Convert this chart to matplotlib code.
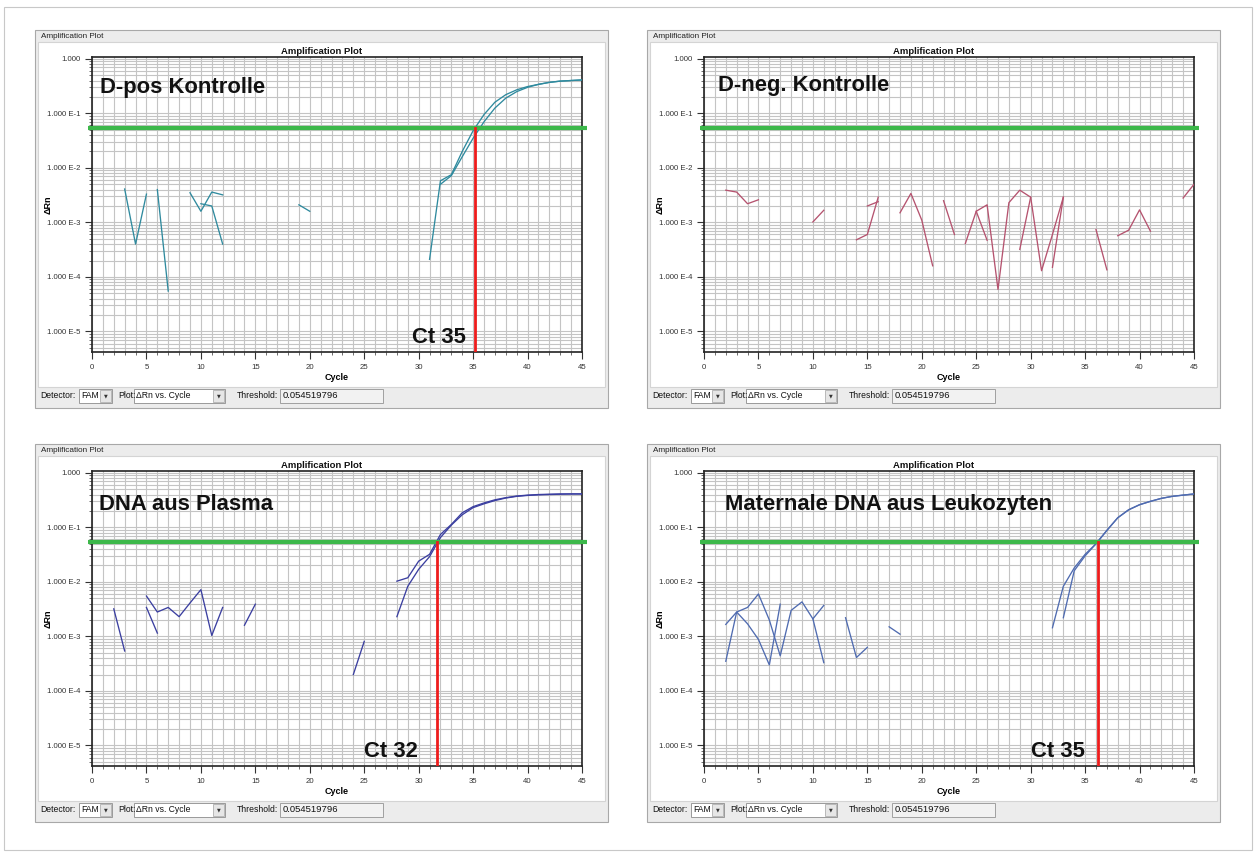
import numpy as np
import matplotlib.pyplot as plt
from matplotlib.patches import Rectangle
from matplotlib.ticker import MultipleLocator, LogLocator, NullFormatter
import matplotlib.transforms as mtransforms

plt.rcParams['font.family'] = ['Liberation Sans', 'DejaVu Sans']

N = None
cycles = np.arange(1, 46)
threshold = 0.054519796

# delta Rn per cycle (1..45), None = not drawn (value <= 0 on the log axis)
pos_a = [N, N, 0.0041, 0.0004, 0.0033, N, N, N, 0.0035,
         0.0016, 0.0036, 0.0032, N, N, N, N, N, N,
         0.0021, 0.0016, N, N, N, N, N, N, N,
         N, N, N, 2.1e-4, 0.0058, 0.0075, 0.020, 0.048, 0.095,
         0.16, 0.22, 0.27, 0.31, 0.34, 0.37, 0.39, 0.40, 0.41]
pos_b = [N, N, N, N, N, 0.0040, 5.5e-5, N, N,
         0.0022, 0.0020, 0.0004, N, N, N, N, N, N,
         N, N, N, N, N, N, N, N, N,
         N, N, N, N, 0.0050, 0.0072, 0.016, 0.035, 0.070,
         0.125, 0.19, 0.25, 0.30, 0.34, 0.37, 0.39, 0.40, 0.41]

neg_a = [N, 0.0039, 0.0036, 0.0022, 0.0026, N, N, N, N,
         0.00102, 0.00167, N, N, 0.00048, 0.0006, 0.0029, N, 0.0015,
         0.0034, 0.0011, 0.00016, N, N, 0.00041, 0.0016, 0.0021, 5.9e-5,
         0.0023, 0.0039, 0.0029, 0.00013, 0.0006, 0.0029, N, N, N,
         N, 0.00057, 0.00072, 0.0017, 0.00069, N, N, 0.0028, 0.0050]
neg_b = [N, N, N, N, N, N, N, N, N,
         N, N, N, N, N, 0.0020, 0.0024, N, N,
         N, N, N, 0.0025, 0.0006, N, 0.0016, 0.00047, N,
         N, 0.00032, 0.0029, N, 0.00015, 0.0029, N, N, 0.00074,
         0.000135, N, N, N, N, N, N, N, N]

plasma_a = [N, 0.0032, 0.00054, N, 0.0055, 0.0028, 0.0034, 0.0023, 0.0041,
            0.0072, 0.00104, 0.0034, N, 0.0016, 0.0039, N, N, N,
            N, N, N, N, N, 0.0002, 0.00081, N, N,
            0.0103, 0.0119, 0.024, 0.032, 0.074, 0.113, 0.185, 0.24, 0.28,
            0.32, 0.35, 0.375, 0.39, 0.40, 0.405, 0.41, 0.41, 0.41]
plasma_b = [N, N, N, N, 0.0034, 0.00115, N, N, N,
            N, N, N, N, N, N, N, N, N,
            N, N, N, N, N, N, N, N, N,
            0.0023, 0.0083, 0.017, 0.029, 0.065, 0.11, 0.17, 0.23, 0.27,
            0.31, 0.345, 0.37, 0.385, 0.395, 0.40, 0.405, 0.41, 0.41]

leuko_a = [N, 0.00166, 0.0028, 0.0034, 0.006, 0.0020, 0.00044, 0.0030, 0.0043,
           0.0021, 0.00033, N, 0.0022, 0.00041, 0.00063, N, 0.0015, 0.0011,
           N, N, N, N, N, N, N, N, N,
           N, N, N, N, 0.00144, 0.0083, 0.018, 0.032, 0.050,
           0.088, 0.15, 0.21, 0.26, 0.30, 0.34, 0.37, 0.39, 0.41]
leuko_b = [N, 0.00035, 0.0028, 0.0017, 0.00088, 0.0003, 0.0039, N, N,
           0.0021, 0.0037, N, N, N, N, N, N, N,
           N, N, N, N, N, N, N, N, N,
           N, N, N, N, N, 0.0022, 0.016, 0.030, 0.050,
           0.088, 0.15, 0.21, 0.26, 0.30, 0.34, 0.37, 0.39, 0.41]

panel_names = ["D-pos Kontrolle", "D-neg. Kontrolle", "DNA aus Plasma",
               "Maternale DNA aus Leukozyten"]
panel_series = [(pos_a, pos_b), (neg_a, neg_b), (plasma_a, plasma_b), (leuko_a, leuko_b)]
line_colors = ['#2f8a9e', '#b5536f', '#3b3fa0', '#4f6bb0']
ct_values = [35.2, None, 31.7, 36.2]
ct_labels = ["Ct 35", None, "Ct 32", "Ct 35"]

ytick_vals = [1e-5, 1e-4, 1e-3, 1e-2, 1e-1, 1.0]
ytick_text = ["1.000 E-5", "1.000 E-4", "1.000 E-3", "1.000 E-2", "1.000 E-1", "1.000"]

# layout (pixels)
W, H = 1257, 857
offsets = [(0, 0), (612, 0), (0, 414), (612, 414)]
name_pos = [(0.016, 0.895), (0.029, 0.905), (0.014, 0.885), (0.043, 0.888)]
ct_text_x = [34.35, None, 29.95, 35.0]

fig = plt.figure(figsize=(W / 100, H / 100), dpi=100)
fig.patch.set_facecolor('white')


def box(x0, y0, x1, y1, fc, ec, lw=0.8, z=-5):
    fig.add_artist(Rectangle((x0 / W, 1 - y1 / H), (x1 - x0) / W, (y1 - y0) / H,
                             transform=fig.transFigure, facecolor=fc,
                             edgecolor=ec, lw=lw, zorder=z))


def label(x, y, s, **kw):
    kw.setdefault('va', 'center')
    fig.text(x / W, 1 - y / H, s, **kw)


def combo(x0, x1, y, s):
    box(x0, y - 7, x1, y + 7, 'white', '#9a9a9a', lw=0.7, z=-3)
    box(x1 - 12, y - 6, x1 - 1, y + 6, '#e6e6e6', '#b0b0b0', lw=0.6, z=-2)
    label(x0 + 2, y, s, fontsize=6.2, color='#111')
    label(x1 - 6.5, y, '\u25bc', fontsize=3.5, ha='center', color='#333',
          family='DejaVu Sans')


box(4, 7, 1252, 850, 'white', '#c8c8c8', z=-10)

for i, (ox, oy) in enumerate(offsets):
    # window chrome
    box(35 + ox, 30 + oy, 608 + ox, 408 + oy, '#ececec', '#a8a8a8', z=-9)
    box(38 + ox, 42 + oy, 605 + ox, 387 + oy, 'white', '#d4d4d4', z=-8)
    label(41 + ox, 36 + oy, 'Amplification Plot', fontsize=5.9, color='#222')
    label(321.5 + ox, 51 + oy, 'Amplification Plot', fontsize=6.8,
          weight='bold', ha='center', color='#111')
    label(337 + ox, 378 + oy, 'Cycle', fontsize=6.5, weight='bold', ha='center')
    label(48 + ox, 205 + oy, '\u0394Rn', fontsize=6.5, weight='bold',
          ha='center', rotation=90)

    yb = 396 + oy
    label(40 + ox, yb, 'Detector:', fontsize=6.2, color='#111')
    combo(79 + ox, 112 + ox, yb, 'FAM')
    label(118 + ox, yb, 'Plot:', fontsize=6.2, color='#111')
    combo(134 + ox, 225 + ox, yb, '\u0394Rn vs. Cycle')
    label(237 + ox, yb, 'Threshold:', fontsize=6.2, color='#111')
    box(280 + ox, yb - 7, 383 + ox, yb + 7, '#f2f2f2', '#a0a0a0', lw=0.7, z=-3)
    label(283 + ox, yb, '0.054519796', fontsize=6.8, color='#111')

    # plot area
    ax = fig.add_axes([(92 + ox) / W, 1 - (352 + oy) / H, 490 / W, 295 / H])
    ax.set_yscale('log')
    ax.set_xlim(0, 45)
    ax.set_ylim(4.2e-6, 1.08)
    ax.xaxis.set_major_locator(MultipleLocator(5))
    ax.xaxis.set_minor_locator(MultipleLocator(1))
    ax.set_yticks(ytick_vals)
    ax.set_yticklabels(ytick_text)
    ax.yaxis.set_minor_locator(LogLocator(base=10, subs=np.arange(2, 10)))
    ax.yaxis.set_minor_formatter(NullFormatter())
    ax.grid(which='both', color='#c4c4c4', lw=0.8)
    ax.set_axisbelow(True)
    ax.tick_params(which='both', labelsize=5.6, colors='#333', direction='out')
    ax.tick_params(which='major', length=5, width=0.8)
    ax.tick_params(which='minor', length=2, width=0.5)
    for sp in ax.spines.values():
        sp.set_color('#222')
        sp.set_linewidth(1.2)

    for s in panel_series[i]:
        vals = np.array([np.nan if v is None else v for v in s], dtype=float)
        ax.plot(cycles, vals, color=line_colors[i], lw=0.95, zorder=3)

    ax.plot([-0.4, 45.45], [threshold, threshold], color='#3cb84a', lw=3,
            clip_on=False, zorder=4, solid_capstyle='butt')

    if ct_values[i] is not None:
        ax.plot([ct_values[i], ct_values[i]], [4.2e-6, threshold],
                color='#ee1c1c', lw=2, zorder=5)
        trans = mtransforms.blended_transform_factory(ax.transData, ax.transAxes)
        ax.text(ct_text_x[i], 0.015, ct_labels[i], transform=trans, ha='right',
                va='bottom', fontsize=15.8, weight='bold', color='#111', zorder=6)

    ax.text(name_pos[i][0], name_pos[i][1], panel_names[i], transform=ax.transAxes,
            ha='left', va='center', fontsize=15.8, weight='bold', color='#111',
            zorder=6)

fig.savefig('out.png', dpi=100, facecolor='white')
